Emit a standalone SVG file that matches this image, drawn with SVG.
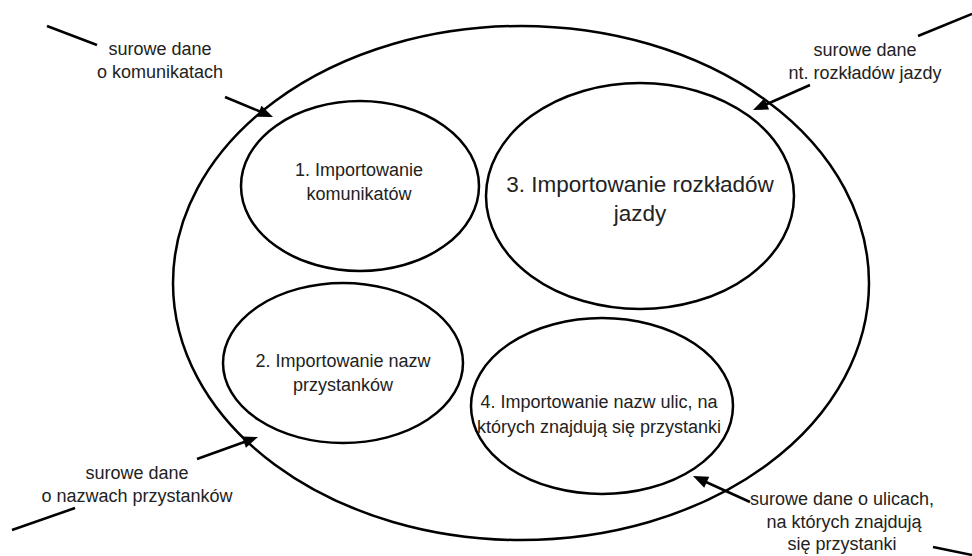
<svg xmlns="http://www.w3.org/2000/svg" width="972" height="556" viewBox="0 0 972 556">
<style>
.node{fill:none;stroke:#000;stroke-width:2.5}
.t{font-family:"Liberation Sans",Arial,sans-serif;font-size:18px;fill:#222;text-anchor:middle}
.big{font-size:22.5px}
.c{stroke:#000;stroke-width:2.5;fill:none}
.ah{fill:#000}
</style>
<rect width="972" height="556" fill="#fff"/>
<g id="system"><ellipse class="node" cx="521" cy="283" rx="348" ry="257"/></g>
<g id="n1"><ellipse class="node" cx="360" cy="186" rx="119" ry="85"/>
<text class="t" x="359" y="176">1. Importowanie</text><text class="t" x="359" y="200">komunikatów</text></g>
<g id="n3"><ellipse class="node" cx="640" cy="196" rx="154" ry="113"/>
<text class="t big" x="640" y="192">3. Importowanie rozkładów</text><text class="t big" x="640" y="221">jazdy</text></g>
<g id="n2"><ellipse class="node" cx="343" cy="363" rx="120" ry="80"/>
<text class="t" x="343" y="367">2. Importowanie nazw</text><text class="t" x="343" y="391">przystanków</text></g>
<g id="n4"><ellipse class="node" cx="602" cy="406" rx="131" ry="88"/>
<text class="t" x="599" y="408">4. Importowanie nazw ulic, na</text><text class="t" x="599" y="433">których znajdują się przystanki</text></g>
<g id="connectors">
<line class="c" x1="47" y1="26" x2="97" y2="45"/>
<path class="c" d="M225,97 L260,111.5"/><path class="ah" d="M273,117 L256.9,116.7 L261.5,105.7 Z"/>
<line class="c" x1="918" y1="36" x2="972" y2="14"/>
<path class="c" d="M810,85 L766,104.5"/><path class="ah" d="M753,110 L764.3,98.5 L769.1,109.5 Z"/>
<line class="c" x1="12" y1="530" x2="75" y2="508"/>
<path class="c" d="M197,459 L245,441.7"/><path class="ah" d="M258,437 L245.9,447.7 L241.9,436.5 Z"/>
<line class="c" x1="933" y1="547" x2="972" y2="555"/>
<path class="c" d="M750,502 L706,482"/><path class="ah" d="M693,476 L709.2,476.7 L704.2,487.7 Z"/>
</g>
<g id="labels">
<text class="t" x="160" y="55">surowe dane</text><text class="t" x="160" y="78">o komunikatach</text>
<text class="t" x="865" y="56">surowe dane</text><text class="t" x="865" y="79">nt. rozkładów jazdy</text>
<text class="t" x="137" y="479">surowe dane</text><text class="t" x="137" y="502">o nazwach przystanków</text>
<text class="t" x="842" y="505">surowe dane o ulicach,</text><text class="t" x="844" y="528">na których znajdują</text><text class="t" x="842" y="550">się przystanki</text>
</g>
</svg>
